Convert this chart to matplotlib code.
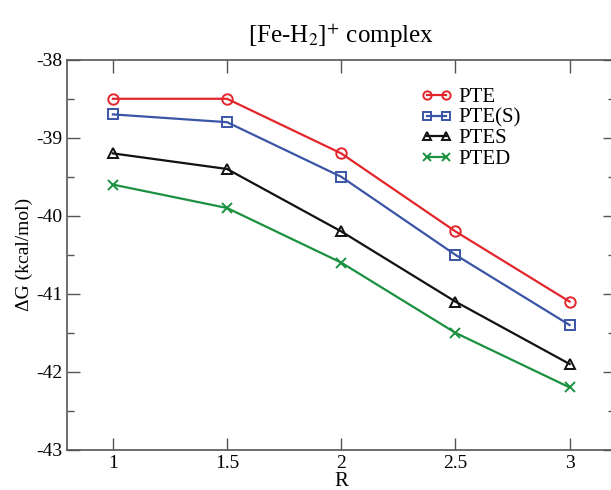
import matplotlib
matplotlib.use("Agg")
import matplotlib.pyplot as plt
from matplotlib.ticker import MultipleLocator

R = [1, 1.5, 2, 2.5, 3]
pte = [-38.5, -38.5, -39.2, -40.2, -41.1]
pte_s = [-38.7, -38.8, -39.5, -40.5, -41.4]
ptes = [-39.2, -39.4, -40.2, -41.1, -41.9]
pted = [-39.6, -39.9, -40.6, -41.5, -42.2]
labels = ["PTE", "PTE(S)", "PTES", "PTED"]
xticks = [1, 1.5, 2, 2.5, 3]
yticks = [-43, -42, -41, -40, -39, -38]

plt.rcParams['font.family'] = ['Liberation Serif', 'DejaVu Serif']
plt.rcParams['mathtext.fontset'] = 'stix'

fig = plt.figure(figsize=(6.11, 4.9), dpi=100)
ax = fig.add_axes([0.110, 0.082, 0.897, 0.796])

series = [
    (pte, '#e3262b', 'o', 7.5),
    (pte_s, '#3a55a6', 's', 6.5),
    (ptes, '#111111', '^', 7.5),
    (pted, '#1b9140', 'x', 6.5),
]
for (vals, c, m, ms), lab in zip(series, labels):
    ax.plot(R, vals, color=c, lw=1.6, marker=m, ms=ms,
            mfc='none', mec=c, mew=1.4, label=lab)

ax.set_xlim(0.8, 3.2)
ax.set_ylim(-43, -38)
ax.set_xticks(xticks)
ax.set_xticklabels([str(t) for t in xticks])
ax.set_yticks(yticks)
ax.set_yticklabels([str(t) for t in yticks])
ax.yaxis.set_minor_locator(MultipleLocator(0.5))
ax.tick_params(which='both', direction='in', top=True, right=True,
               labelsize=14, color='#555555')
ax.tick_params(which='major', length=9, width=1)
ax.tick_params(which='minor', length=5, width=1)
for s in ax.spines.values():
    s.set_color('#555555')
    s.set_linewidth(1.2)

ax.set_xlabel("R", fontsize=15, labelpad=0)
ax.set_ylabel("ΔG (kcal/mol)", fontsize=14, labelpad=2)
ax.set_title("[Fe-H$_2$]$^{+}$ complex", fontsize=18, pad=12)

leg = ax.legend(loc='upper left', bbox_to_anchor=(0.63, 0.95), frameon=False,
                fontsize=15, handlelength=1.5, handletextpad=0.3, numpoints=2,
                markerscale=0.8, labelspacing=0.05, borderaxespad=0)

fig.savefig("out.png", dpi=100)
